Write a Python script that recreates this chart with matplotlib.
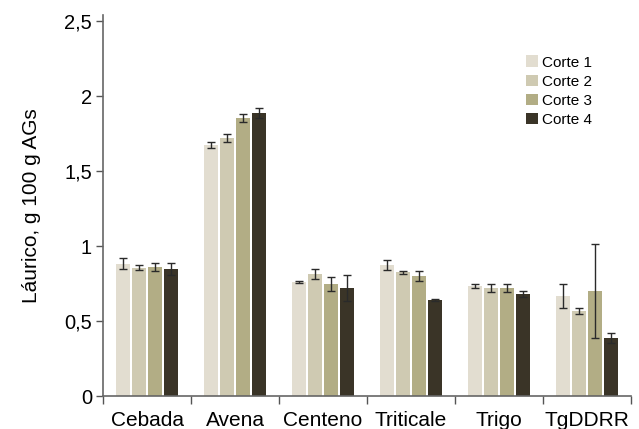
import numpy as np
import matplotlib.pyplot as plt

plt.rcParams["font.family"] = ["Liberation Sans", "DejaVu Sans"]

cereales = ["Cebada", "Avena", "Centeno", "Triticale", "Trigo", "TgDDRR"]
cortes = ["Corte 1", "Corte 2", "Corte 3", "Corte 4"]

# media por cereal para cada corte
corte1 = [0.882, 1.673, 0.760, 0.873, 0.733, 0.667]
corte2 = [0.855, 1.722, 0.813, 0.824, 0.720, 0.567]
corte3 = [0.860, 1.853, 0.747, 0.800, 0.720, 0.700]
corte4 = [0.847, 1.887, 0.720, 0.640, 0.680, 0.387]

# error estandar
err1 = [0.037, 0.021, 0.007, 0.036, 0.013, 0.083]
err2 = [0.018, 0.026, 0.036, 0.012, 0.026, 0.017]
err3 = [0.028, 0.026, 0.046, 0.036, 0.024, 0.312]
err4 = [0.037, 0.036, 0.088, 0.005, 0.022, 0.034]

colores = ["#e2ddd0", "#cfcab2", "#b2ad85", "#3a3427"]

medias = [corte1, corte2, corte3, corte4]
errores = [err1, err2, err3, err4]

fig = plt.figure(figsize=(6.39, 4.29), dpi=100)
ax = fig.add_axes([0.1612, 0.0769, 0.8263, 0.888])

centros = np.arange(len(cereales)) + 0.5
paso = 0.182
ancho = 0.159
for k in range(4):
    x = centros + (k - 1.5) * paso
    ax.bar(x, medias[k], ancho, color=colores[k], label=cortes[k], zorder=2)
    ax.errorbar(x, medias[k], yerr=errores[k], fmt="none", ecolor="#2a2a2a",
                elinewidth=1, capsize=3, capthick=1, zorder=3)

ax.set_xlim(0, 6)
ax.set_ylim(0, 2.54)
ax.set_yticks([0, 0.5, 1, 1.5, 2, 2.5])
ax.set_yticklabels(["0", "0,5", "1", "1,5", "2", "2,5"], fontsize=14.5)
ax.set_xticks(centros)
ax.set_xticklabels(cereales, fontsize=15)
ax.set_xticks(np.arange(7), minor=True)
ax.tick_params(axis="x", which="major", length=0, pad=11)
ax.tick_params(axis="x", which="minor", length=6, width=1, color="#555555")
ax.tick_params(axis="y", length=5, width=1, color="#555555", pad=3)
ax.set_ylabel("Láurico, g 100 g AGs", fontsize=15, labelpad=17)

for lado in ["top", "right"]:
    ax.spines[lado].set_visible(False)
for lado in ["left", "bottom"]:
    ax.spines[lado].set_color("#666666")
    ax.spines[lado].set_linewidth(1.2)

ax.legend(loc="upper left", bbox_to_anchor=(0.786, 0.914), frameon=False,
          fontsize=11, handlelength=0.8, handleheight=0.8, handletextpad=0.25,
          labelspacing=0.32, borderpad=0)

fig.savefig("out.png", dpi=100)
